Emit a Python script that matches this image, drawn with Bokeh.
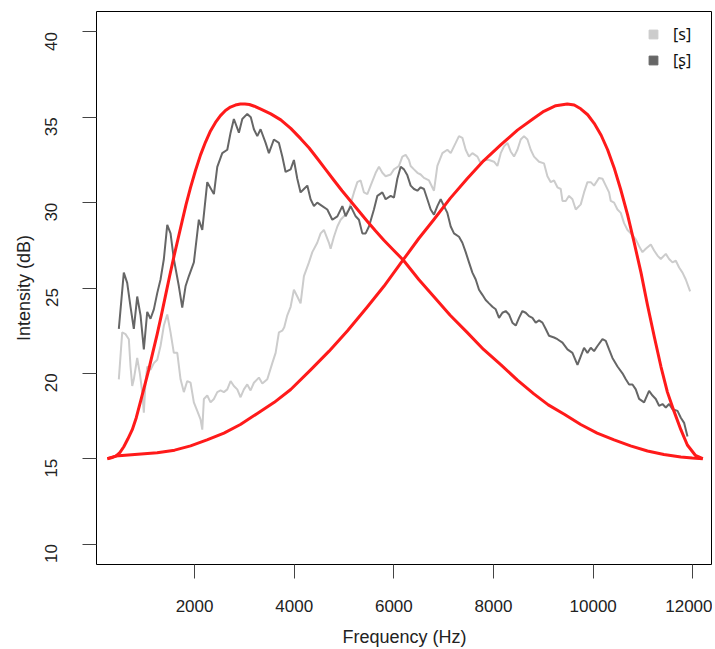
import math
from bokeh.plotting import figure
from bokeh.models import Range1d, FixedTicker, Legend, LegendItem, ColumnDataSource
from bokeh.embed import file_html
from bokeh.resources import INLINE

# ---------------- data ----------------
x_ticks = [2000, 4000, 6000, 8000, 10000, 12000]
y_ticks = [10, 15, 20, 25, 30, 35, 40]
series_labels = ["[s]", "[ʂ]"]

# [ʂ] spectrum (dark gray)
sh_freq = [480, 580, 648, 715, 781, 849, 916, 982, 1050, 1116, 1183, 1251, 1317, 1384, 1452,
           1518, 1584, 1685, 1753, 1819, 1886, 1986, 2086, 2155, 2255, 2388, 2456, 2556, 2657,
           2723, 2789, 2890, 2958, 3058, 3129, 3191, 3259, 3325, 3426, 3492, 3592, 3693, 3761,
           3827, 3928, 3994, 4062, 4128, 4195, 4263, 4329, 4396, 4462, 4564, 4664, 4765, 4866,
           4966, 5032, 5133, 5233, 5299, 5367, 5434, 5500, 5600, 5669, 5769, 5835, 5936, 6002,
           6070, 6137, 6203, 6271, 6337, 6404, 6472, 6538, 6604, 6672, 6739, 6805, 6873, 6940,
           7006, 7074, 7141, 7207, 7307, 7375, 7442, 7508, 7576, 7643, 7709, 7777, 7843, 7910,
           7978, 8044, 8111, 8179, 8245, 8311, 8379, 8446, 8512, 8580, 8646, 8713, 8781, 8847,
           8914, 8982, 9048, 9114, 9215, 9283, 9384, 9484, 9584, 9685, 9751, 9817, 9885, 9952,
           10018, 10086, 10187, 10253, 10319, 10387, 10488, 10588, 10655, 10721, 10789, 10855,
           10922, 11022, 11122, 11191, 11257, 11323, 11391, 11458, 11524, 11592, 11693, 11759,
           11825, 11893]
sh_db = [22.6, 25.9, 25.3, 23.9, 22.6, 24.5, 23.4, 21.4, 23.6, 23.2, 23.75, 24.7, 25.5, 26.7, 28.7,
         28.2, 26.7, 25.1, 23.85, 25.1, 25.7, 26.5, 29.0, 28.4, 31.2, 30.5, 32.1, 32.9, 33.1,
         34.1, 34.9, 34.1, 34.9, 35.2, 35.0, 34.3, 33.9, 34.3, 33.5, 32.9, 33.7, 33.5, 32.7,
         31.8, 31.95, 32.5, 31.4, 30.6, 30.8, 31.0, 30.2, 29.8, 30.0, 29.8, 29.6, 29.0, 29.2,
         29.8, 29.2, 29.8, 29.2, 29.0, 28.2, 28.2, 28.6, 29.6, 30.4, 30.6, 30.2, 30.4, 30.3,
         31.4, 32.1, 31.95, 31.6, 31.0, 30.8, 30.7, 30.9, 30.8, 30.2, 29.6, 29.3, 29.8, 30.2,
         29.8, 29.4, 28.6, 28.2, 28.0, 27.65, 27.1, 26.5, 25.9, 25.5, 24.9, 24.6, 24.3, 24.1,
         23.9, 23.75, 23.25, 23.55, 23.65, 23.45, 22.97, 22.8, 23.25, 23.65, 23.55, 23.35, 23.25, 22.97,
         23.1, 22.97, 22.6, 22.2, 22.1, 22.0, 21.8, 21.4, 21.2, 20.5, 21.0, 21.5, 21.2, 21.5,
         21.3, 21.6, 22.0, 21.9, 21.4, 20.9, 20.4, 20.0, 19.65, 19.35, 19.35, 19.06,
         18.5, 18.3, 18.97, 18.7, 18.5, 18.1, 18.2, 18.0, 18.2, 17.9, 17.8, 17.4,
         17.1, 16.3]

# [s] spectrum (light gray)
s_freq = [480, 548, 614, 681, 715, 749, 781, 849, 902, 950, 982, 1016, 1050, 1116, 1183, 1251,
          1317, 1384, 1452, 1518, 1584, 1653, 1719, 1785, 1853, 1920, 1986, 2054, 2120, 2155,
          2187, 2255, 2321, 2388, 2456, 2522, 2588, 2657, 2723, 2789, 2857, 2924, 2990, 3058,
          3124, 3191, 3291, 3360, 3460, 3560, 3627, 3693, 3760, 3800, 3861, 3928, 3994, 4062,
          4128, 4195, 4296, 4363, 4462, 4530, 4596, 4697, 4731, 4797, 4866, 4932, 4998, 5098,
          5199, 5267, 5333, 5400, 5468, 5534, 5635, 5701, 5769, 5835, 5936, 6002, 6102, 6171,
          6237, 6303, 6337, 6404, 6472, 6538, 6604, 6705, 6805, 6873, 6974, 7074, 7141, 7241,
          7307, 7375, 7442, 7508, 7576, 7677, 7743, 7809, 7910, 8010, 8078, 8145, 8211, 8279,
          8345, 8412, 8480, 8546, 8612, 8681, 8747, 8813, 8914, 9014, 9082, 9149, 9215, 9283,
          9349, 9384, 9450, 9516, 9584, 9651, 9751, 9817, 9885, 9952, 10018, 10119, 10187, 10253,
          10319, 10353, 10420, 10488, 10554, 10620, 10689, 10755, 10855, 10922, 10990, 11056,
          11157, 11223, 11291, 11357, 11458, 11524, 11592, 11659, 11725, 11793, 11859, 11946]
s_db = [19.65, 22.4, 22.3, 22.0, 20.4, 19.26, 19.65, 20.9, 20.0, 18.9, 17.7, 19.5, 20.4, 20.2, 20.6, 20.8,
        21.6, 22.8, 23.45, 22.4, 21.2, 21.2, 19.65, 18.9, 19.55, 19.45, 18.3, 17.8, 17.3, 16.7,
        18.5, 18.7, 18.3, 18.5, 18.9, 19.0, 18.9, 19.06, 19.55, 19.26, 19.06, 18.6, 19.06, 19.35,
        19.0, 19.45, 19.75, 19.4, 19.65, 20.6, 21.2, 22.4, 22.5, 22.7, 23.4, 23.9, 24.9, 24.5,
        24.1, 25.7, 26.5, 27.1, 27.65, 28.2, 28.4, 27.65, 27.3, 28.0, 28.6, 29.0, 29.2, 29.6,
        30.6, 31.2, 31.3, 30.6, 30.5, 31.0, 31.75, 32.1, 31.75, 31.55, 31.65, 31.95, 32.15, 32.7,
        32.8, 32.5, 32.15, 31.95, 31.75, 31.65, 31.45, 31.3, 30.7, 32.15, 32.9, 33.1, 32.9, 33.5,
        33.9, 33.8, 33.1, 32.7, 32.9, 32.7, 32.3, 32.5, 32.5, 32.4, 32.15, 32.9, 33.3, 33.5,
        33.0, 32.7, 33.1, 33.7, 33.9, 33.7, 33.1, 32.7, 32.4, 32.3, 31.55, 31.2, 31.3, 30.9,
        30.8, 30.1, 30.1, 30.4, 30.2, 29.6, 29.9, 30.6, 31.2, 31.2, 31.0, 31.45, 31.4, 31.0,
        30.6, 30.1, 30.0, 29.6, 29.4, 28.8, 28.4, 28.2, 27.85, 27.45, 27.1, 27.3,
        27.55, 27.2, 26.9, 26.7, 27.0, 26.7, 26.5, 26.6, 26.2, 25.9, 25.5, 24.8]

# red curve 1 (peak near 3 kHz)
c1_freq = [250, 330, 420, 500, 580, 660, 750, 830, 920, 1000, 1080, 1160, 1250, 1330, 1420, 1500,
           1590, 1670, 1750, 1830, 1920, 2020, 2120, 2220, 2320, 2420, 2520, 2620, 2720, 2820,
           2920, 3010, 3100, 3200, 3330, 3530, 3730, 3930, 4130, 4300, 4460, 4630, 4800, 4960,
           5130, 5300, 5470, 5630, 5800, 6000, 6200, 6500, 6800, 7130, 7470, 7800, 8150, 8480,
           8810, 9100, 9420, 9750, 10080, 10420, 10750, 11090, 11420, 11760, 11990, 12200]
c1_db = [15.0, 15.05, 15.15, 15.35, 15.7, 16.15, 16.7, 17.4, 18.4, 19.3, 20.2, 21.2, 22.3, 23.35,
         24.6, 25.7, 26.9, 27.9, 28.9, 29.9, 30.9, 31.9, 32.8, 33.55, 34.2, 34.7, 35.1, 35.4,
         35.6, 35.72, 35.78, 35.78, 35.75, 35.65, 35.48, 35.2, 34.85, 34.35, 33.75, 33.2, 32.6,
         31.95, 31.3, 30.7, 30.1, 29.5, 28.9, 28.35, 27.8, 27.2, 26.6, 25.5, 24.5, 23.4, 22.4,
         21.4, 20.5, 19.6, 18.8, 18.15, 17.6, 17.0, 16.5, 16.1, 15.75, 15.45, 15.25, 15.1,
         15.04, 15.0]

# red curve 2 (peak near 9.5 kHz)
c2_freq = [250, 415, 800, 1250, 1600, 1920, 2250, 2590, 2920, 3260, 3600, 3930, 4330, 4700, 5070,
           5470, 5800, 6200, 6500, 6800, 7130, 7470, 7800, 8150, 8480, 8810, 9010, 9250, 9480,
           9620, 9750, 9890, 10020, 10160, 10290, 10420, 10550, 10690, 10820, 10960, 11090,
           11230, 11360, 11490, 11620, 11760, 11890, 12050, 12200]
c2_db = [15.0, 15.15, 15.25, 15.35, 15.5, 15.75, 16.1, 16.5, 17.0, 17.65, 18.3, 19.05, 20.2, 21.3,
         22.5, 23.9, 25.1, 26.7, 27.9, 29.0, 30.25, 31.4, 32.45, 33.4, 34.25, 34.95, 35.35, 35.68,
         35.78, 35.72, 35.5, 35.15, 34.65, 33.95, 33.1, 32.05, 30.8, 29.3, 27.7, 25.9, 24.0,
         22.1, 20.4, 18.9, 17.8, 16.7, 15.8, 15.2, 15.0]

LIGHT = "#cccccc"
DARK = "#666666"
RED = "#ff1a1a"
FONT = "Liberation Sans"

p = figure(width=712, height=649, x_range=Range1d(32, 12395), y_range=Range1d(8.8, 41.2),
           output_backend="svg", toolbar_location=None,
           min_border_left=96, min_border_right=0, min_border_top=11, min_border_bottom=85)

p.grid.visible = False
p.outline_line_color = "black"
p.outline_line_width = 1
p.background_fill_color = "white"
p.border_fill_color = "white"

p.line(s_freq, s_db, line_color=LIGHT, line_width=2)
p.line(sh_freq, sh_db, line_color=DARK, line_width=2)
p.line(c1_freq, c1_db, line_color=RED, line_width=3, line_join="round")
p.line(c2_freq, c2_db, line_color=RED, line_width=3, line_join="round")

for ax in (p.xaxis[0], p.yaxis[0]):
    ax.axis_line_color = None
    ax.major_tick_out = 14
    ax.major_tick_in = 0
    ax.major_tick_line_color = "#444444"
    ax.minor_tick_line_color = None
    ax.major_label_text_font = FONT
    ax.major_label_text_font_size = "17px"
    ax.major_label_text_color = "#222222"
    ax.axis_label_text_font = FONT
    ax.axis_label_text_font_size = "18px"
    ax.axis_label_text_font_style = "normal"
    ax.axis_label_text_color = "#222222"

p.xaxis.ticker = FixedTicker(ticks=x_ticks)
p.yaxis.ticker = FixedTicker(ticks=y_ticks)
p.xaxis.axis_label = "Frequency (Hz)"
p.yaxis.axis_label = "Intensity (dB)"
p.xaxis.major_label_standoff = 21
p.xaxis.axis_label_standoff = 12
p.yaxis.major_label_standoff = 31
p.yaxis.axis_label_standoff = 3
p.yaxis.major_label_orientation = math.pi / 2

src1 = ColumnDataSource(data=dict(x=[float("nan")], y=[float("nan")]))
src2 = ColumnDataSource(data=dict(x=[float("nan")], y=[float("nan")]))
r_s = p.scatter("x", "y", source=src1, marker="square", color=LIGHT, size=9)
r_sh = p.scatter("x", "y", source=src2, marker="square", color=DARK, size=9)

legend = Legend(items=[LegendItem(label=series_labels[0], renderers=[r_s]),
                       LegendItem(label=series_labels[1], renderers=[r_sh])],
                location=(546, 493), orientation="vertical",
                glyph_width=22, glyph_height=22, label_standoff=9, spacing=4,
                padding=0, margin=0, label_height=22,
                label_text_font="Noto Sans", label_text_font_size="16px",
                label_text_color="#111111",
                border_line_color=None, background_fill_alpha=0)
p.add_layout(legend)

open("out.html", "w").write(file_html(p, INLINE))
